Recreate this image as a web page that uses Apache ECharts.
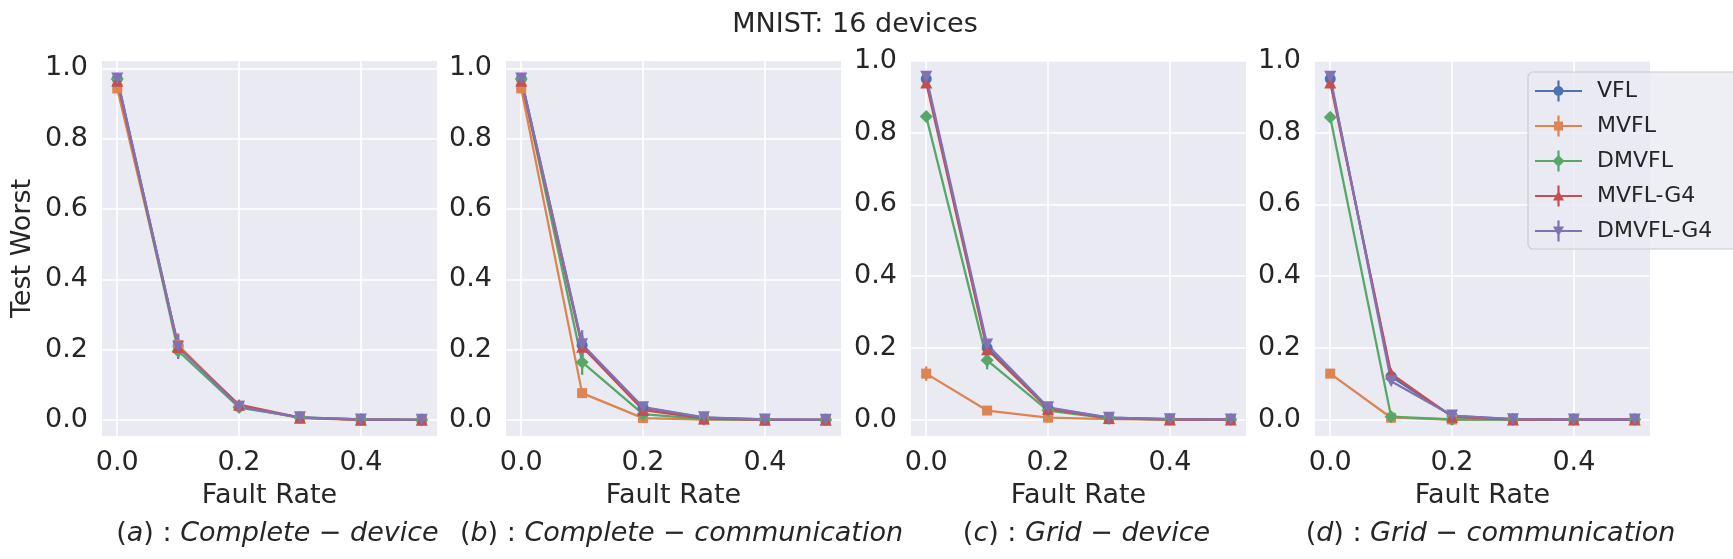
<!DOCTYPE html>
<html>
<head>
<meta charset="utf-8">
<script src="https://cdn.jsdelivr.net/npm/echarts@6/dist/echarts.min.js"></script>
<style>
  html, body { margin: 0; padding: 0; background: #fff; }
  #chart { width: 1733px; height: 559px; }
</style>
</head>
<body>
<div id="chart"></div>
<script>
const faultRates = [0, 0.1, 0.2, 0.3, 0.4, 0.5];
const methods = ['VFL', 'MVFL', 'DMVFL', 'MVFL-G4', 'DMVFL-G4'];
const yTicks = [0, 0.2, 0.4, 0.6, 0.8, 1.0];
const xTicks = [0, 0.2, 0.4];

// rows follow methods order
const completeDevice = [
  [0.970, 0.210, 0.038, 0.006, 0.001, 0.000],
  [0.943, 0.213, 0.040, 0.005, 0.000, 0.000],
  [0.970, 0.196, 0.035, 0.007, 0.001, 0.000],
  [0.965, 0.207, 0.043, 0.006, 0.000, 0.000],
  [0.971, 0.208, 0.037, 0.007, 0.001, 0.000]
];
const completeDeviceErr = [
  [0.005, 0.020, 0.005, 0.002, 0.001, 0.000],
  [0.008, 0.033, 0.006, 0.002, 0.001, 0.000],
  [0.005, 0.020, 0.005, 0.002, 0.001, 0.000],
  [0.005, 0.020, 0.005, 0.002, 0.001, 0.000],
  [0.004, 0.035, 0.005, 0.002, 0.001, 0.000]
];
const completeComm = [
  [0.970, 0.212, 0.035, 0.006, 0.001, 0.000],
  [0.943, 0.076, 0.005, 0.001, 0.000, 0.000],
  [0.970, 0.164, 0.016, 0.002, 0.000, 0.000],
  [0.965, 0.208, 0.028, 0.004, 0.000, 0.000],
  [0.971, 0.215, 0.036, 0.007, 0.001, 0.000]
];
const completeCommErr = [
  [0.005, 0.030, 0.004, 0.002, 0.001, 0.000],
  [0.008, 0.006, 0.003, 0.001, 0.000, 0.000],
  [0.005, 0.036, 0.004, 0.001, 0.000, 0.000],
  [0.005, 0.030, 0.004, 0.002, 0.000, 0.000],
  [0.004, 0.040, 0.005, 0.002, 0.001, 0.000]
];
const gridDevice = [
  [0.950, 0.200, 0.032, 0.005, 0.001, 0.000],
  [0.128, 0.025, 0.005, 0.001, 0.000, 0.000],
  [0.845, 0.165, 0.025, 0.003, 0.000, 0.000],
  [0.940, 0.196, 0.030, 0.004, 0.000, 0.000],
  [0.956, 0.209, 0.034, 0.005, 0.001, 0.000]
];
const gridDeviceErr = [
  [0.005, 0.010, 0.004, 0.001, 0.000, 0.000],
  [0.020, 0.004, 0.002, 0.001, 0.000, 0.000],
  [0.006, 0.025, 0.004, 0.001, 0.000, 0.000],
  [0.006, 0.010, 0.004, 0.001, 0.000, 0.000],
  [0.005, 0.012, 0.004, 0.001, 0.000, 0.000]
];
const gridComm = [
  [0.950, 0.120, 0.010, 0.001, 0.000, 0.000],
  [0.128, 0.005, 0.000, 0.000, 0.000, 0.000],
  [0.843, 0.008, 0.000, 0.000, 0.000, 0.000],
  [0.940, 0.128, 0.008, 0.000, 0.000, 0.000],
  [0.956, 0.107, 0.011, 0.001, 0.000, 0.000]
];
const gridCommErr = [
  [0.005, 0.006, 0.002, 0.000, 0.000, 0.000],
  [0.004, 0.002, 0.000, 0.000, 0.000, 0.000],
  [0.006, 0.003, 0.000, 0.000, 0.000, 0.000],
  [0.006, 0.006, 0.002, 0.000, 0.000, 0.000],
  [0.005, 0.006, 0.002, 0.000, 0.000, 0.000]
];

const panels = [
  { vals: completeDevice, errs: completeDeviceErr, tag: 'a', text: 'Complete − device', ymax: 1.021 },
  { vals: completeComm, errs: completeCommErr, tag: 'b', text: 'Complete − communication', ymax: 1.021 },
  { vals: gridDevice, errs: gridDeviceErr, tag: 'c', text: 'Grid − device', ymax: 1.0 },
  { vals: gridComm, errs: gridCommErr, tag: 'd', text: 'Grid − communication', ymax: 1.0 }
];

const colors = ['#4c72b0', '#dd8452', '#55a868', '#c44e52', '#8172b3'];
const symbols = ['circle', 'rect', 'diamond', 'triangle', 'triangle'];
const symbolSizes = [11, 10, 13, 12, 12];
const symbolRotates = [0, 0, 0, 0, 180];

const lefts = [102, 506, 911, 1315];
const plotW = 335, plotTop = 61, plotH = 375;
const font = 'DejaVu Sans';
const textColor = '#262626';

// legend glyph: line + vertical error bar + marker, all subpaths clockwise
function poly(pts) {
  return 'M' + pts.map(p => p[0].toFixed(2) + ' ' + p[1].toFixed(2)).join(' L') + ' Z ';
}
function legendIcon(k) {
  const W = 47, H = 21, cx = 23.5, cy = 10.5;
  let d = poly([[0, cy - 1.1], [W, cy - 1.1], [W, cy + 1.1], [0, cy + 1.1]]);
  d += poly([[cx - 1.1, 0], [cx + 1.1, 0], [cx + 1.1, H], [cx - 1.1, H]]);
  let m;
  if (k === 0) {
    m = [];
    for (let t = 0; t < 24; t++) {
      const a = -Math.PI / 2 + t * Math.PI * 2 / 24;
      m.push([cx + 5 * Math.cos(a), cy + 5 * Math.sin(a)]);
    }
  } else if (k === 1) {
    m = [[cx - 4.5, cy - 4.5], [cx + 4.5, cy - 4.5], [cx + 4.5, cy + 4.5], [cx - 4.5, cy + 4.5]];
  } else if (k === 2) {
    m = [[cx, cy - 6], [cx + 6, cy], [cx, cy + 6], [cx - 6, cy]];
  } else if (k === 3) {
    m = [[cx, cy - 5.5], [cx + 5.5, cy + 4.5], [cx - 5.5, cy + 4.5]];
  } else {
    m = [[cx - 5.5, cy - 4.5], [cx + 5.5, cy - 4.5], [cx, cy + 5.5]];
  }
  d += poly(m);
  return 'path://' + d;
}

const grids = [], xAxes = [], yAxes = [], series = [], titles = [];

titles.push({
  text: 'MNIST: 16 devices',
  left: 850, top: 6, textAlign: 'center',
  textStyle: { fontFamily: font, fontSize: 27, fontWeight: 'normal', color: textColor }
});

panels.forEach((p, i) => {
  grids.push({
    left: lefts[i], top: plotTop, width: plotW, height: plotH,
    show: true, backgroundColor: '#eaeaf2', borderWidth: 0
  });
  xAxes.push({
    type: 'value', gridIndex: i, min: -0.025, max: 0.525,
    name: 'Fault Rate', nameLocation: 'middle', nameGap: 46,
    nameTextStyle: { fontFamily: font, fontSize: 27, color: textColor },
    axisLine: { show: false },
    axisTick: { show: false, customValues: xTicks },
    axisLabel: { customValues: xTicks, margin: 13, fontFamily: font, fontSize: 27, color: textColor,
      formatter: v => v.toFixed(1) },
    splitLine: { show: true, lineStyle: { color: '#ffffff', width: 1.6 } }
  });
  yAxes.push({
    type: 'value', gridIndex: i, min: -0.046, max: p.ymax,
    name: i === 0 ? 'Test Worst' : '', nameLocation: 'middle', nameGap: 66,
    nameTextStyle: { fontFamily: font, fontSize: 27, color: textColor },
    axisLine: { show: false },
    axisTick: { show: false, customValues: yTicks },
    axisLabel: { customValues: yTicks, margin: 14, fontFamily: font, fontSize: 27, color: textColor,
      formatter: v => v.toFixed(1) },
    splitLine: { show: true, lineStyle: { color: '#ffffff', width: 1.6 } }
  });
  titles.push({
    text: '{up|(}{it|' + p.tag + '}{up|) : }{it|' + p.text + '}',
    left: lefts[i] + plotW / 2 + 3, top: 515, textAlign: 'center',
    textStyle: {
      fontWeight: 'normal',
      rich: {
        up: { fontFamily: font, fontSize: 27, fontWeight: 'normal', color: textColor },
        it: { fontFamily: font, fontSize: 27, fontWeight: 'normal', fontStyle: 'italic', color: textColor }
      }
    }
  });

  methods.forEach((m, k) => {
    const pts = faultRates.map((x, j) => [x, p.vals[k][j], p.errs[k][j]]);
    series.push({
      name: m + ' err',
      type: 'custom',
      xAxisIndex: i, yAxisIndex: i,
      data: pts,
      silent: true,
      renderItem: (params, api) => {
        const x = api.value(0), y = api.value(1), e = api.value(2);
        const a = api.coord([x, y - e]);
        const b = api.coord([x, y + e]);
        return {
          type: 'line',
          shape: { x1: a[0], y1: a[1], x2: b[0], y2: b[1] },
          style: { stroke: colors[k], lineWidth: 2.3 }
        };
      }
    });
    series.push({
      name: m,
      type: 'line',
      xAxisIndex: i, yAxisIndex: i,
      data: pts.map(d => [d[0], d[1]]),
      symbol: symbols[k],
      symbolSize: symbolSizes[k],
      symbolRotate: symbolRotates[k],
      showAllSymbol: true,
      color: colors[k],
      lineStyle: { color: colors[k], width: 2.3 },
      itemStyle: { color: colors[k] }
    });
  });
});

const chart = echarts.init(document.getElementById('chart'));
chart.setOption({
  animation: false,
  title: titles,
  grid: grids,
  xAxis: xAxes,
  yAxis: yAxes,
  legend: {
    data: methods.map((m, k) => ({ name: m, icon: legendIcon(k) })),
    orient: 'vertical',
    left: 1528, top: 72,
    width: 196,
    padding: [8, 30, 7, 7],
    itemWidth: 47, itemHeight: 21, itemGap: 13,
    backgroundColor: 'rgba(234,234,242,0.8)',
    borderColor: '#cccccc', borderWidth: 1.2, borderRadius: 5,
    selectedMode: false,
    textStyle: { fontFamily: font, fontSize: 22, color: textColor, padding: [0, 0, 0, 10] }
  },
  series: series
});
</script>
</body>
</html>
